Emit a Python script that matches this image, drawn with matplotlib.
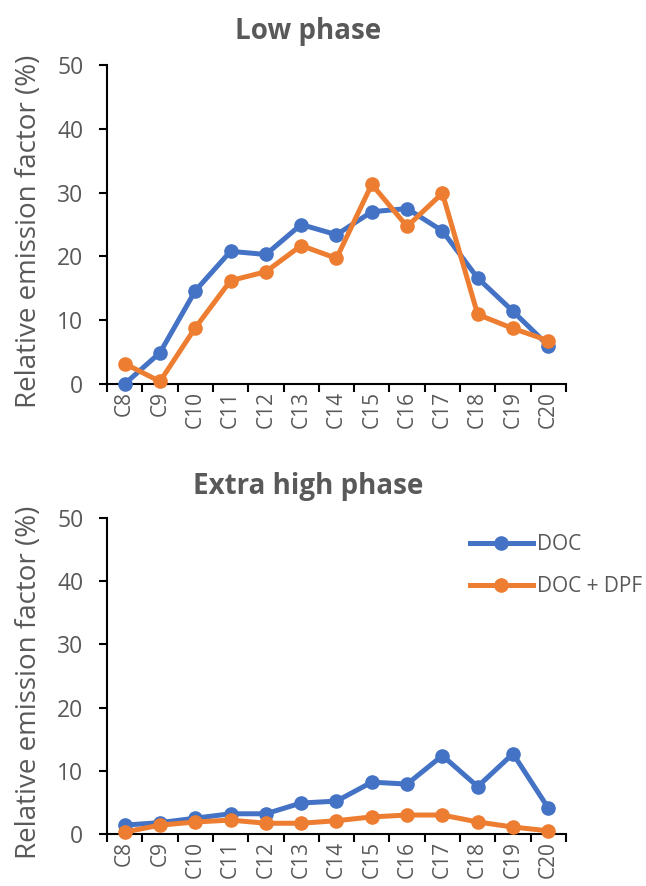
import numpy as np
import matplotlib.pyplot as plt
from matplotlib.ticker import FixedLocator

categories = ["C8", "C9", "C10", "C11", "C12", "C13", "C14",
              "C15", "C16", "C17", "C18", "C19", "C20"]

# Low phase
low_doc = [0.0, 4.9, 14.6, 20.8, 20.3, 25.0, 23.4, 27.0, 27.5, 24.0, 16.6, 11.4, 6.0]
low_dpf = [3.2, 0.4, 8.8, 16.2, 17.6, 21.7, 19.7, 31.3, 24.7, 29.9, 10.9, 8.7, 6.8]

# Extra high phase
xhigh_doc = [1.4, 1.8, 2.5, 3.2, 3.2, 4.9, 5.2, 8.2, 7.9, 12.4, 7.5, 12.7, 4.1]
xhigh_dpf = [0.3, 1.4, 1.9, 2.2, 1.7, 1.7, 2.1, 2.7, 3.0, 3.0, 1.9, 1.1, 0.5]

blue = "#4472C4"
orange = "#ED7D31"
grey = "#595959"

plt.rcParams['font.family'] = ['Open Sans', 'DejaVu Sans']

fig = plt.figure(figsize=(6.46, 8.86), dpi=100)
ax1 = fig.add_axes([0.1656, 0.5666, 0.7105, 0.36])
ax2 = fig.add_axes([0.1656, 0.0587, 0.7105, 0.3567])


def style_axis(ax, title, title_pad):
    x = np.arange(len(categories))
    ax.set_xlim(-0.5, len(categories) - 0.5)
    ax.set_ylim(0, 50)
    ax.set_yticks([0, 10, 20, 30, 40, 50])
    ax.set_xticks(x)
    ax.set_xticklabels(categories, rotation=90, color=grey, fontsize=15)
    ax.xaxis.set_minor_locator(FixedLocator(np.arange(-0.5, len(categories), 1.0)))
    ax.tick_params(axis='x', which='major', length=0, pad=5)
    ax.tick_params(axis='x', which='minor', length=6, width=1.5, direction='out', color='black')
    ax.tick_params(axis='y', length=6, width=1.5, direction='out', colors='black',
                   labelsize=16.5, labelcolor=grey, pad=11)
    for s in ['top', 'right']:
        ax.spines[s].set_visible(False)
    for s in ['left', 'bottom']:
        ax.spines[s].set_linewidth(1.5)
        ax.spines[s].set_color('black')
    ax.set_ylabel("Relative emission factor (%)", fontsize=20, color=grey)
    ax.yaxis.set_label_coords(-0.139, 0.48)
    ax.set_title(title, fontsize=20, fontweight='bold', color=grey, pad=title_pad, x=0.438)


x = np.arange(len(categories))
ax1.plot(x, low_doc, color=blue, lw=3.6, marker='o', ms=9.5, label="DOC", clip_on=False, zorder=3)
ax1.plot(x, low_dpf, color=orange, lw=3.6, marker='o', ms=9.5, label="DOC + DPF", clip_on=False, zorder=4)
style_axis(ax1, "Low phase", 18.5)

ax2.plot(x, xhigh_doc, color=blue, lw=3.6, marker='o', ms=9.5, label="DOC", clip_on=False, zorder=3)
ax2.plot(x, xhigh_dpf, color=orange, lw=3.6, marker='o', ms=9.5, label="DOC + DPF", clip_on=False, zorder=4)
style_axis(ax2, "Extra high phase", 17.5)

leg = ax2.legend(loc='upper left', bbox_to_anchor=(0.791, 0.949), frameon=False,
                 handlelength=3.0, handletextpad=0.2, labelspacing=1.0,
                 fontsize=15, borderaxespad=0, borderpad=0)
for t in leg.get_texts():
    t.set_color(grey)

fig.savefig("out.png", dpi=100)
